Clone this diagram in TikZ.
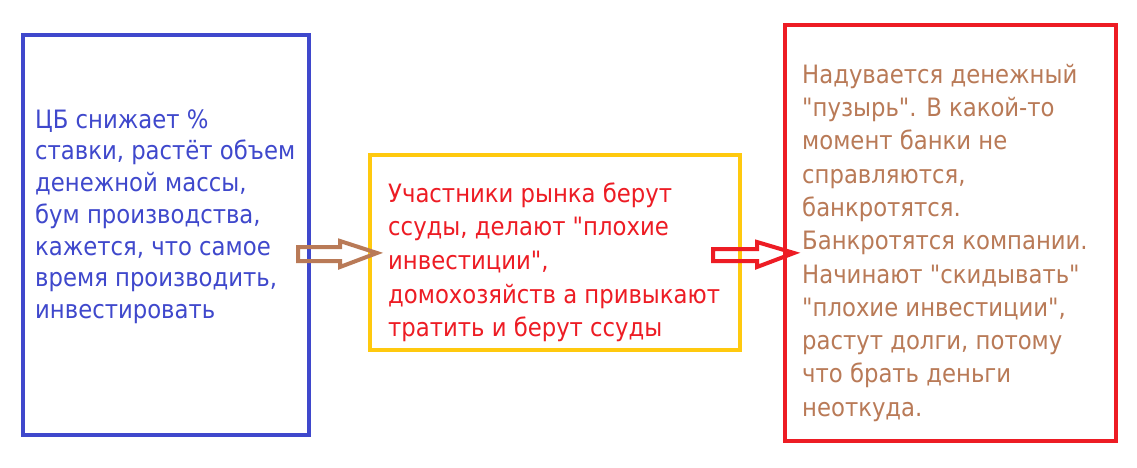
\documentclass[tikz,border=0pt]{standalone}
\usepackage{fontspec}
\setmainfont{DejaVu Sans Condensed}[Ligatures=TeXOff]
\definecolor{cbblue}{HTML}{3F48CC}
\definecolor{cbgold}{HTML}{FFC90E}
\definecolor{cbred}{HTML}{ED1C24}
\definecolor{cbbrown}{HTML}{B97A57}
\newcommand\dq{\char34 }
\newcommand\firststrut{\rule{0pt}{25pt}}
\tikzset{
  box/.style={line width=4pt},
  txt/.style={anchor=north west, inner sep=0pt, align=left},
  blockarrow/.style={line width=4pt, line join=miter}
}
\begin{document}
\begin{tikzpicture}[x=1pt,y=-1pt]
\useasboundingbox (0,0) rectangle (1137,467);
\fill[white] (0,0) rectangle (1137,467);
% boxes
\draw[box, cbblue] (23,35) rectangle (309,435);
\draw[box, cbgold] (370,155) rectangle (740,350);
\draw[box, cbred] (785,25) rectangle (1116,441);
% texts (node top = first baseline - 25)
\node[txt, text=cbblue, font=\fontsize{25.3}{31.7}\selectfont] (t1) at (35,103)
  {\firststrut ЦБ снижает \%\\ставки, растёт объем\\денежной массы,\\бум производства,\\кажется, что самое\\время производить,\\инвестировать};
\node[txt, text=cbred, font=\fontsize{25.3}{33.6}\selectfont] (t2) at (388,177)
  {\firststrut Участники рынка берут\\ссуды, делают \dq плохие\\инвестиции\dq,\\домохозяйств а привыкают\\тратить и берут ссуды};
\node[txt, text=cbbrown, font=\fontsize{25.3}{33.3}\selectfont] (t3) at (802,58)
  {\firststrut Надувается денежный\\\dq пузырь\dq. В какой-то\\момент банки не\\справляются,\\банкротятся.\\Банкротятся компании.\\Начинают \dq скидывать\dq\\\dq плохие инвестиции\dq,\\растут долги, потому\\что брать деньги\\неоткуда.};
% arrows
\draw[blockarrow, cbbrown] (298,247) -- (340,247) -- (340,241) -- (377,253) -- (340,267) -- (340,261) -- (298,261) -- cycle;
\draw[blockarrow, cbred] (713,249) -- (757,249) -- (757,242) -- (794,253) -- (757,267) -- (757,261) -- (713,261) -- cycle;
\end{tikzpicture}
\end{document}
